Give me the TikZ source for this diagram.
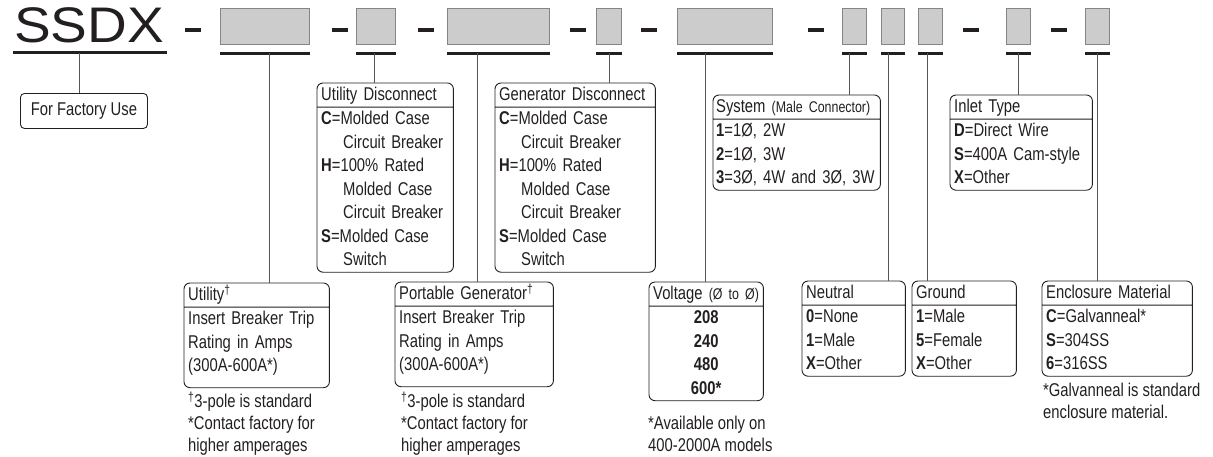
\documentclass[tikz,border=0pt]{standalone}
\usepackage{fontspec}
\setmainfont[FakeStretch=0.8]{Liberation Sans}
\newfontfamily\logofont[FakeStretch=1.1]{Liberation Sans}
\usetikzlibrary{shapes.multipart}

\definecolor{ink}{HTML}{231F20}
\definecolor{slotfill}{HTML}{CCCCCC}
\definecolor{slotedge}{HTML}{858585}
\definecolor{wire}{HTML}{555555}

\newcommand\optfont{\fontsize{18.5}{23.5}\selectfont\parindent=0pt}
\newcommand\notefont{\fontsize{18.5}{21.8}\selectfont\parindent=0pt}
\newcommand\smallpar{\fontsize{15.5}{18}\selectfont}
\newcommand\rs{\rule[-6pt]{0pt}{23.5pt}}
\newcommand\sel[1]{\textbf{#1}}
\newcommand\ind{\hspace*{22pt}}

\begin{document}
\begin{tikzpicture}[x=1pt,y=-1pt,color=ink,
  slot/.style={draw=slotedge,fill=slotfill,line width=1.4pt,minimum height=36pt,inner sep=0pt,anchor=north west},
  ul/.style={line width=2.6pt},
  dashbar/.style={line width=4.4pt},
  conn/.style={draw=wire,line width=0.9pt},
  optbox/.style={rectangle split,rectangle split parts=2,inner xsep=4pt,inner ysep=0pt,
    anchor=north west,font=\optfont},
  frame/.style={line width=0.9pt,rounded corners=6pt},
  note/.style={inner sep=0pt,anchor=north west,align=left,font=\notefont}]
  \useasboundingbox (0,0) rectangle (1213,456);

  % model code
  \node[font=\logofont\fontsize{50}{50}\selectfont,inner sep=0pt] (logo) at (89,25.5) {SSDX};
  \draw[ul] ([xshift=-1pt,yshift=-9pt]logo.south west) -- ([xshift=3pt,yshift=-9pt]logo.south east);
  \foreach \a in {185,332,418,570,641,808,963,1051}
    \draw[dashbar] (\a,30) -- ++(16,0);
  \foreach \x/\w/\n in {220/89/s1,356/39/s2,447/102/s3,596/25/s4,677/95/s5,
                        842/24/s6,881/23/s7,918/24/s8,1006/24/s9,1085/24/s10}{
    \node[slot,minimum width=\w pt] (\n) at (\x,8) {};
    \draw[ul] ([yshift=-8pt]\n.south west) -- ([yshift=-8pt]\n.south east);}

  % option boxes, upper row
  \node[draw,rounded corners=4pt,line width=0.9pt,minimum width=127pt,minimum height=35pt,
        inner sep=0pt,anchor=north west,font=\optfont] (fact) at (20,93) {For Factory Use};
  \node[optbox,text width=128pt] (udisc) at (317,83)
    {\rs Utility Disconnect\nodepart{two}\rs\sel{C}=Molded Case\\\ind Circuit Breaker\\\sel{H}=100\% Rated\\\ind Molded Case\\\ind Circuit Breaker\\\sel{S}=Molded Case\\\ind Switch\rs};
  \node[optbox,text width=152pt] (gdisc) at (495,83)
    {\rs Generator Disconnect\nodepart{two}\rs\sel{C}=Molded Case\\\ind Circuit Breaker\\\sel{H}=100\% Rated\\\ind Molded Case\\\ind Circuit Breaker\\\sel{S}=Molded Case\\\ind Switch\rs};
  \node[optbox,text width=161pt,inner xsep=3pt] (sys) at (713,95)
    {\rs System {\smallpar(Male Connector)}\nodepart{two}\rs\sel{1}=1Ø, 2W\\\sel{2}=1Ø, 3W\\\mbox{\sel{3}=3Ø, 4W and 3Ø, 3W}\rs};
  \node[optbox,text width=134pt] (inlet) at (950,95)
    {\rs Inlet Type\nodepart{two}\rs\sel{D}=Direct Wire\\\sel{S}=400A Cam-style\\\sel{X}=Other\rs};

  % option boxes, lower row
  \node[optbox,text width=137pt] (util) at (184,283)
    {\rs Utility\textsuperscript{†}\nodepart{two}\rs Insert Breaker Trip\\Rating in Amps\\(300A-600A*)\rule[-15.5pt]{0pt}{1pt}};
  \node[optbox,text width=150pt] (pgen) at (395,282)
    {\rs Portable Generator\textsuperscript{†}\nodepart{two}\rs Insert Breaker Trip\\Rating in Amps\\(300A-600A*)\rule[-15.5pt]{0pt}{1pt}};
  \node[optbox,text width=106pt] (volt) at (649,282)
    {\rs Voltage {\smallpar(Ø to Ø)}\nodepart{two}\centering\rs\sel{208}\\\sel{240}\\\sel{480}\\\sel{600*}\rs\par};
  \node[optbox,text width=95pt] (neut) at (802,281)
    {\rs Neutral\nodepart{two}\rs\sel{0}=None\\\sel{1}=Male\\\sel{X}=Other\rs};
  \node[optbox,text width=96pt] (gnd) at (912,281)
    {\rs Ground\nodepart{two}\rs\sel{1}=Male\\\sel{5}=Female\\\sel{X}=Other\rs};
  \node[optbox,text width=142pt] (encl) at (1042,281)
    {\rs Enclosure Material\nodepart{two}\rs\sel{C}=Galvanneal*\\\sel{S}=304SS\\\sel{6}=316SS\rs};

  % frames and header rules
  \foreach \b in {udisc,gdisc,sys,inlet,util,pgen,volt,neut,gnd,encl}
    \draw[frame] (\b.north west) rectangle (\b.south east) (\b.text split west) -- (\b.text split east);

  % footnotes
  \node[note] (utilnote) at (188,392) {\strut\textsuperscript{†}3-pole is standard\\{*}Contact factory for\\higher amperages};
  \node[note] (pgennote) at (401,392) {\strut\textsuperscript{†}3-pole is standard\\{*}Contact factory for\\higher amperages};
  \node[note] (voltnote) at (648,414) {\strut*Available only on\\400-2000A models};
  \node[note] (enclnote) at (1043,381) {\strut*Galvanneal is standard\\enclosure material.};

  % connectors
  \foreach \n/\x/\b in {c0/79/fact,c1/269/util,c2/374/udisc,c3/477/pgen,c4/609/gdisc,c5/705/volt,
                        c6/849/sys,c7/888/neut,c8/927/gnd,c9/1018/inlet,c10/1097/encl}{
    \coordinate (\n) at (\x,53);
    \draw[conn] (\n) -- (\n |- \b.north);}
\end{tikzpicture}
\end{document}
